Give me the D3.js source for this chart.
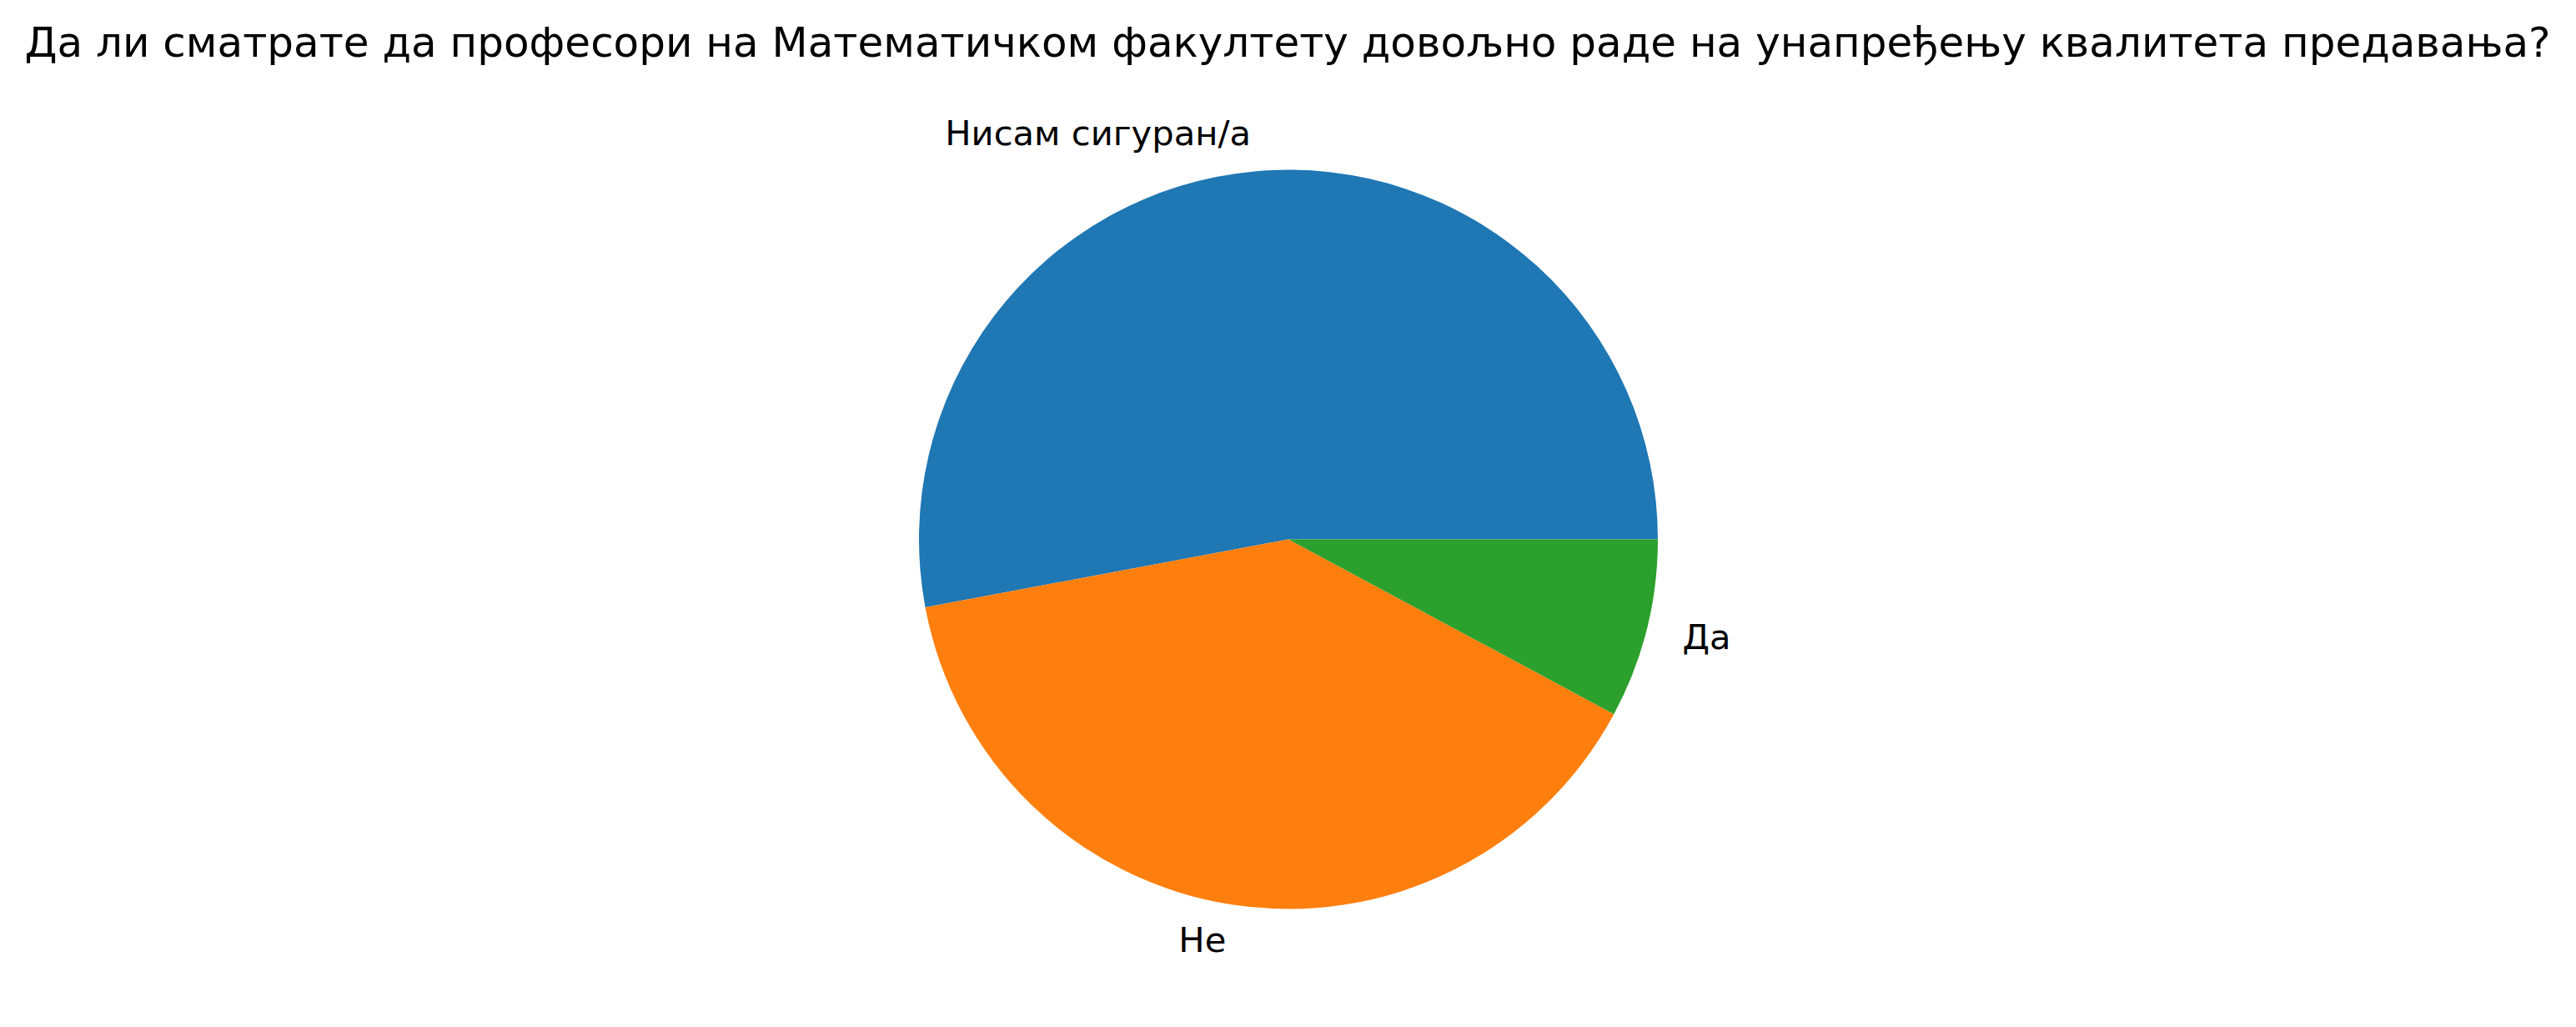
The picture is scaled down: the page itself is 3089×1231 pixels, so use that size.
<!DOCTYPE html>
<html>
<head>
<meta charset="utf-8">
<script src="https://cdn.jsdelivr.net/npm/d3@7"></script>
<style>
  html, body { margin: 0; padding: 0; background: #fff; }
  svg { display: block; }
</style>
</head>
<body>
<script>
// Data
const title = "Да ли сматрате да професори на Математичком факултету довољно раде на унапређењу квалитета предавања?";
const categories = ["Нисам сигуран/а", "Не", "Да"];
const counts = [27, 20, 4];
const colors = ["#1f77b4", "#ff7f0e", "#2ca02c"];

// Layout
const w = 3089;
const h = 1231;
const cx = 1545;
const cy = 646.5;
const radius = 443;
const labelDist = 1.1;

const svg = d3.select("body")
              .append("svg")
              .attr("width", w)
              .attr("height", h);

// Title
svg.append("text")
    .attr("x", 1544)
    .attr("y", 68)
    .attr("text-anchor", "middle")
    .attr("font-family", "DejaVu Sans")
    .attr("font-size", "50px")
    .attr("fill", "black")
    .text(title);

// Pie starts at 3 o'clock and runs counterclockwise (matplotlib style)
const pie = d3.pie()
              .sort(null)
              .value(d => d)
              .startAngle(Math.PI / 2)
              .endAngle(Math.PI / 2 - 2 * Math.PI);

const arc = d3.arc()
              .innerRadius(0)
              .outerRadius(radius);

const color = d3.scaleOrdinal()
                .domain(categories)
                .range(colors);

const arcs = pie(counts);

const g = svg.append("g")
             .attr("transform", "translate(" + cx + "," + cy + ")");

g.selectAll("path")
    .data(arcs)
    .enter()
    .append("path")
    .attr("d", arc)
    .attr("fill", (d, i) => color(categories[i]));

// Labels at 1.1 * radius
g.selectAll("text.label")
    .data(arcs)
    .enter()
    .append("text")
    .attr("class", "label")
    .attr("x", d => Math.sin((d.startAngle + d.endAngle) / 2) * radius * labelDist)
    .attr("y", d => -Math.cos((d.startAngle + d.endAngle) / 2) * radius * labelDist)
    .attr("dy", "0.3em")
    .attr("text-anchor", d => Math.sin((d.startAngle + d.endAngle) / 2) > 0 ? "start" : "end")
    .attr("font-family", "DejaVu Sans")
    .attr("font-size", "41.67px")
    .attr("fill", "black")
    .text((d, i) => categories[i]);
</script>
</body>
</html>
